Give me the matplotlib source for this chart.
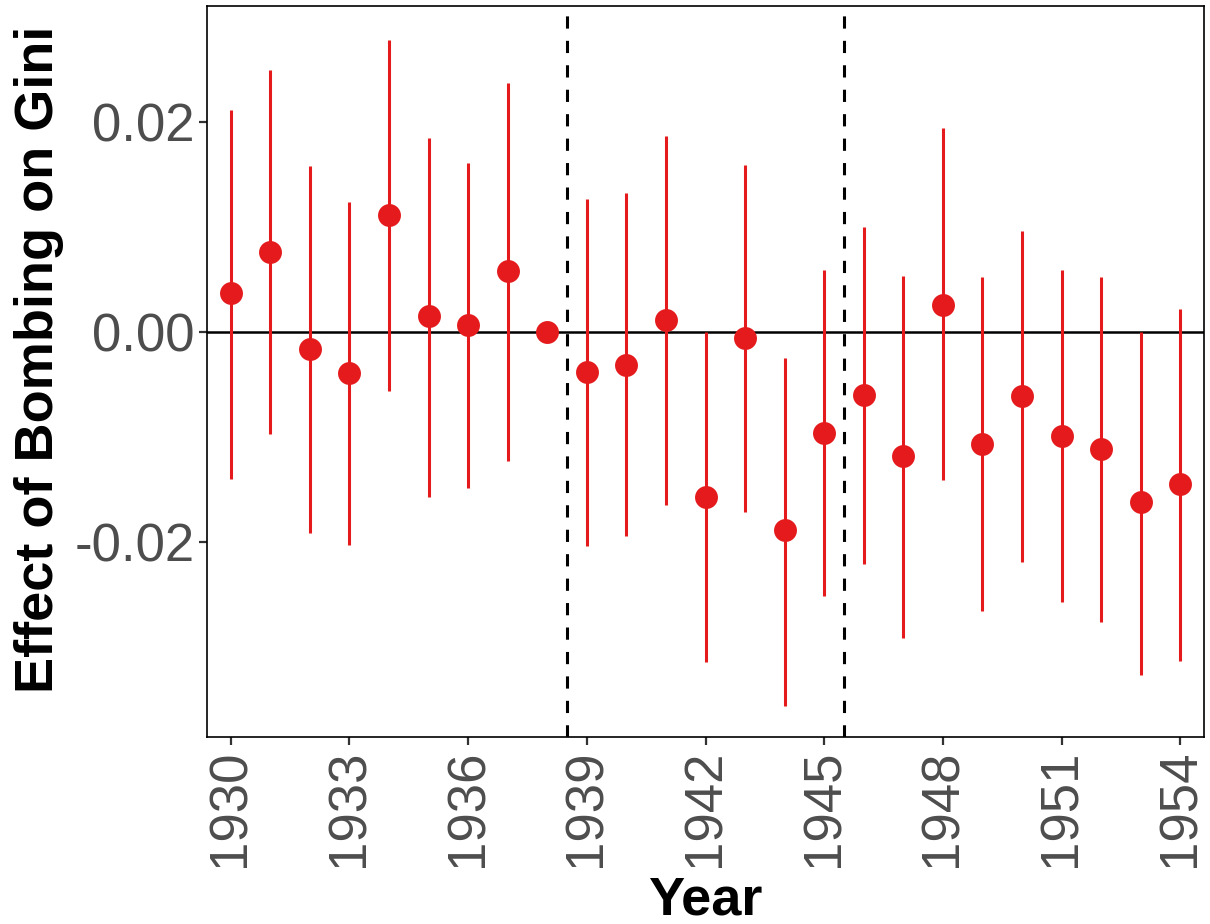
import numpy as np
import matplotlib
matplotlib.use("Agg")
import matplotlib.pyplot as plt

# Event-study estimates
years = list(range(1930, 1955))
estimate = [0.0037, 0.0076, -0.0016, -0.0039, 0.0111, 0.0015, 0.0007, 0.0058, 0.0,
            -0.0038, -0.0031, 0.0011, -0.0157, -0.0006, -0.0189, -0.0096,
            -0.0060, -0.0118, 0.0026, -0.0107, -0.0061, -0.0099, -0.0111, -0.0162, -0.0145]
ci_upper = [0.0211, 0.0250, 0.0158, 0.0124, 0.0278, 0.0185, 0.0161, 0.0237, 0.0,
            0.0127, 0.0132, 0.0187, 0.0000, 0.0159, -0.0025, 0.0059,
            0.0100, 0.0053, 0.0194, 0.0052, 0.0096, 0.0059, 0.0052, 0.0000, 0.0022]
ci_lower = [-0.0140, -0.0097, -0.0191, -0.0203, -0.0056, -0.0157, -0.0149, -0.0123, 0.0,
            -0.0204, -0.0194, -0.0165, -0.0314, -0.0171, -0.0356, -0.0251,
            -0.0221, -0.0291, -0.0141, -0.0266, -0.0219, -0.0257, -0.0276, -0.0327, -0.0313]
period_breaks = [1938.5, 1945.5]
x_ticks = list(range(1930, 1955, 3))
y_ticks = [-0.02, 0.0, 0.02]
y_ticklabels = ["-0.02", "0.00", "0.02"]

plt.rcParams['font.family'] = ['Liberation Sans', 'DejaVu Sans']

fig = plt.figure(figsize=(12.1, 9.24), dpi=100)
ax = fig.add_axes([207 / 1210, 1 - 737 / 924, 997 / 1210, 731 / 924])

red = "#E41A1C"
est = np.array(estimate)
lo = np.array(ci_lower)
hi = np.array(ci_upper)

# zero line and period breaks
ax.axhline(0, color="black", lw=1.8, zorder=1)
for b in period_breaks:
    ax.axvline(b, color="black", lw=2.2, linestyle=(0, (4, 4)), zorder=1)

ax.vlines(years, lo, hi, color=red, lw=2.2, zorder=2)
ax.plot(years, est, "o", color=red, markersize=16.5, markeredgewidth=0, zorder=3)

ax.set_xlim(1929.4, 1954.6)
ax.set_ylim(-0.03857, 0.03105)
ax.set_xticks(x_ticks)
ax.set_xticklabels([str(y) for y in x_ticks], rotation=90)
ax.set_yticks(y_ticks)
ax.set_yticklabels(y_ticklabels)

ax.tick_params(axis="both", labelsize=38, labelcolor="#4D4D4D", color="#333333",
               length=5.8, width=1.6, pad=3)

for s in ax.spines.values():
    s.set_color("black")
    s.set_linewidth(1.2)

ax.set_xlabel("Year", fontsize=39, fontweight="bold", labelpad=6)
ax.set_ylabel("Effect of Bombing on Gini", fontsize=39, fontweight="bold", labelpad=8)
ax.yaxis.label.set_y(0.516)

fig.savefig("out.png", dpi=100, facecolor="white")
